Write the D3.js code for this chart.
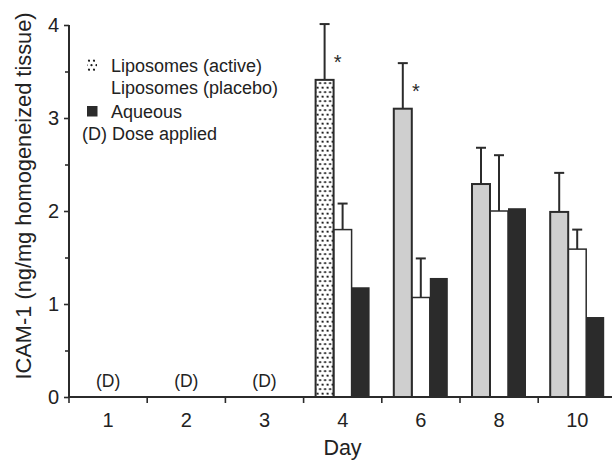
<!DOCTYPE html>
<html>
<head>
<meta charset="utf-8">
<script src="https://cdn.jsdelivr.net/npm/d3@7"></script>
<style>
  html, body { margin: 0; padding: 0; background: #fff; }
  svg { display: block; font-family: "Liberation Sans", Arial, Helvetica, sans-serif; }
</style>
</head>
<body>
<svg id="chart" width="614" height="461"></svg>
<script>
// ---- data ----
const days = ["1", "2", "3", "4", "6", "8", "10"];
const series = ["Liposomes (active)", "Liposomes (placebo)", "Aqueous"];
const activeValues  = [null, null, null, 3.41, 3.10, 2.29, 1.99];
const activeErrors  = [null, null, null, 4.01, 3.59, 2.68, 2.41];
const placeboValues = [null, null, null, 1.80, 1.07, 2.00, 1.59];
const placeboErrors = [null, null, null, 2.08, 1.49, 2.60, 1.80];
const aqueousValues = [null, null, null, 1.18, 1.28, 2.03, 0.86];
const doseDays = ["1", "2", "3"];
const significantDays = ["4", "6"];
const yTicks = [0, 1, 2, 3, 4];
const yMinorTicks = [0.5, 1.5, 2.5, 3.5];
const yTitle = "ICAM-1 (ng/mg homogeneized tissue)";
const xTitle = "Day";
const legendLabels = ["Liposomes (active)", "Liposomes (placebo)", "Aqueous", "(D) Dose applied"];

// ---- layout ----
const svg = d3.select("#chart");
const x0 = 69, yBase = 397, yTop = 25;
const step = 78.2;
const x = d3.scaleBand().domain(days).range([x0, x0 + step * days.length]).padding(0);
const xi = d3.scaleBand().domain(series).range([12, 66]).padding(0);
const y = d3.scaleLinear().domain([0, 4]).range([yBase, yTop]);
const ink = "#2b2b2b";

// pattern for active liposomes (day 4)
const defs = svg.append("defs");
const pat = defs.append("pattern").attr("id", "dots")
  .attr("patternUnits", "userSpaceOnUse").attr("width", 5).attr("height", 9);
pat.append("circle").attr("cx", 1.5).attr("cy", 2.2).attr("r", 1.1).attr("fill", "#1a1a1a");
pat.append("circle").attr("cx", 4).attr("cy", 6.7).attr("r", 1.1).attr("fill", "#1a1a1a");

// rows
const rows = days.map((d, i) => ({
  day: d,
  bars: [
    { s: series[0], v: activeValues[i], e: activeErrors[i] },
    { s: series[1], v: placeboValues[i], e: placeboErrors[i] },
    { s: series[2], v: aqueousValues[i], e: null }
  ].filter(b => b.v != null)
}));

function fillFor(day, s) {
  if (s === series[0]) return day === "4" ? "url(#dots)" : "#cfcfcf";
  if (s === series[1]) return "#ffffff";
  return ink;
}

const g = svg.append("g");
rows.forEach(r => {
  const gg = g.append("g").attr("transform", `translate(${x(r.day)},0)`);
  // error bars first (behind)
  r.bars.filter(b => b.e != null).forEach(b => {
    const cx = xi(b.s) + xi.bandwidth() / 2;
    gg.append("line").attr("x1", cx).attr("x2", cx).attr("y1", y(b.v)).attr("y2", y(b.e))
      .attr("stroke", ink).attr("stroke-width", 2);
    gg.append("line").attr("x1", cx - 5).attr("x2", cx + 5).attr("y1", y(b.e)).attr("y2", y(b.e))
      .attr("stroke", ink).attr("stroke-width", 2);
  });
  // bars: draw placebo before active so active outline sits on top
  const order = [series[1], series[2], series[0]];
  order.forEach(s => {
    const b = r.bars.find(q => q.s === s);
    if (!b) return;
    const rect = gg.append("rect")
      .attr("x", xi(s)).attr("width", xi.bandwidth())
      .attr("y", y(b.v)).attr("height", yBase - y(b.v))
      .attr("fill", fillFor(r.day, s));
    if (s !== series[2]) rect.attr("stroke", ink).attr("stroke-width", s === series[0] ? 2 : 1.5);
  });
  // asterisks
  if (significantDays.includes(r.day)) {
    const b = r.bars[0];
    gg.append("text").attr("x", xi(b.s) + xi.bandwidth() / 2 + 13).attr("y", y(b.v) - 11)
      .attr("text-anchor", "middle").attr("font-size", 20).attr("fill", ink).text("*");
  }
});

// dose labels
doseDays.forEach(d => {
  svg.append("text").attr("x", x(d) + x.bandwidth() / 2).attr("y", 387)
    .attr("text-anchor", "middle").attr("font-size", 17.5).attr("fill", "#222").text("(D)");
});

// x axis
const xAxis = d3.axisBottom(x).tickSize(0).tickPadding(0);
const gx = svg.append("g").attr("transform", `translate(0,${yBase})`).call(xAxis);
gx.attr("font-family", null);
gx.select(".domain").remove();
gx.selectAll("text").attr("font-size", 20).attr("fill", "#222").attr("dy", null).attr("y", 30);
svg.append("line").attr("x1", x0).attr("x2", 612).attr("y1", yBase).attr("y2", yBase)
  .attr("stroke", ink).attr("stroke-width", 2);
svg.append("g").selectAll("line").data(days).join("line")
  .attr("x1", d => x(d)).attr("x2", d => x(d)).attr("y1", yBase).attr("y2", yBase + 6)
  .attr("stroke", ink).attr("stroke-width", 1.6);

// y axis
const yAxis = d3.axisLeft(y).tickValues(yTicks).tickSize(5).tickPadding(5).tickFormat(d3.format("d"));
const gy = svg.append("g").attr("transform", `translate(${x0},0)`).call(yAxis);
gy.attr("font-family", null);
gy.select(".domain").attr("stroke", ink).attr("stroke-width", 2).attr("d", `M0,${yTop}V${yBase}`);
gy.selectAll(".tick line").attr("stroke", ink).attr("stroke-width", 1.6);
gy.selectAll("text").attr("font-size", 20).attr("fill", "#222");
const gyMinor = svg.append("g").attr("transform", `translate(${x0},0)`)
  .call(d3.axisLeft(y).tickValues(yMinorTicks).tickSize(4).tickFormat(""));
gyMinor.select(".domain").remove();
gyMinor.selectAll(".tick line").attr("stroke", ink).attr("stroke-width", 1.6);

// axis titles
svg.append("text").attr("transform", "translate(31,196) rotate(-90)")
  .attr("text-anchor", "middle").attr("font-size", 21.8).attr("fill", "#222").text(yTitle);
svg.append("text").attr("x", 342.5).attr("y", 455)
  .attr("text-anchor", "middle").attr("font-size", 21.5).attr("fill", "#222").text(xTitle);

// legend
const lg = svg.append("g");
lg.append("rect").attr("x", 87).attr("y", 59).attr("width", 10).attr("height", 13).attr("fill", "url(#dots)");
lg.append("rect").attr("x", 87).attr("y", 106).attr("width", 10.5).attr("height", 10.5).attr("fill", ink);
const legY = [72, 94, 118, 140];
legendLabels.forEach((t, i) => {
  lg.append("text").attr("x", i === 3 ? 82 : 111).attr("y", legY[i])
    .attr("font-size", 18).attr("fill", "#222").text(t);
});
</script>
</body>
</html>
